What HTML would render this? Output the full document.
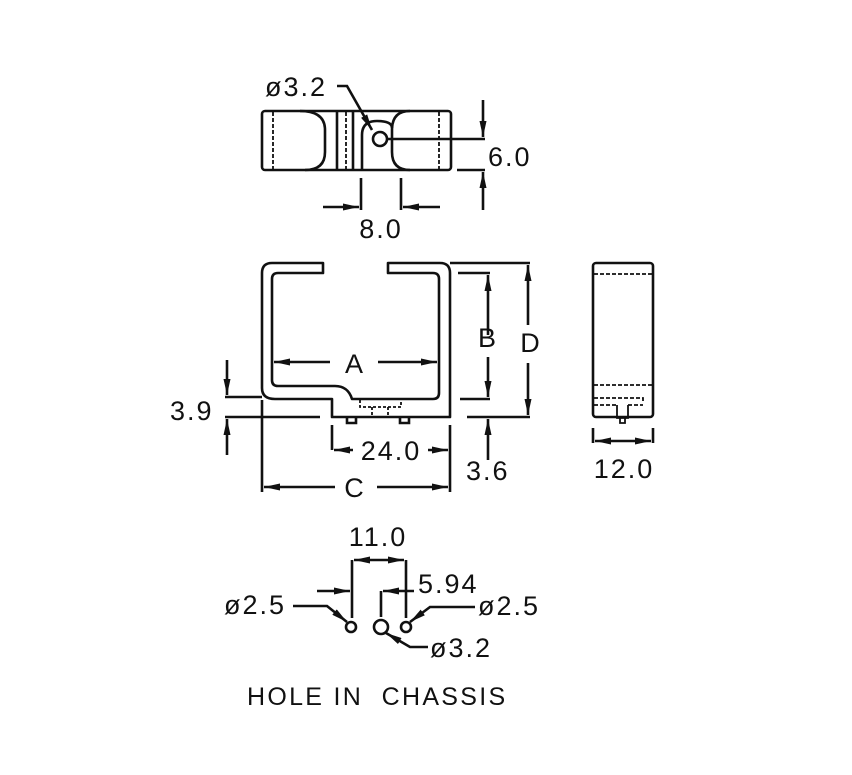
<!DOCTYPE html>
<html><head><meta charset="utf-8"><style>
html,body{margin:0;padding:0;background:#fff}
svg{display:block}
text{font-family:"Liberation Sans",sans-serif;font-size:27px;fill:#111;letter-spacing:2px}
</style></head><body>
<svg width="852" height="775" viewBox="0 0 852 775" xmlns="http://www.w3.org/2000/svg">
<defs>
<marker id="ar" viewBox="0 0 16 7" refX="16" refY="3.5" markerWidth="16" markerHeight="7" markerUnits="userSpaceOnUse" orient="auto"><path d="M0,0 L16,3.5 L0,7 z" fill="#111"/></marker>
</defs>
<g fill="none" stroke="#111" stroke-width="2.6">
<rect x="262" y="111" width="189" height="59" rx="3"/>
<path d="M273,112V169 M439,112V169 M346,112V169" stroke-dasharray="4,2" stroke-width="1.8"/>
<path d="M337,111V170 M353,111V170"/>
<path d="M300,111 Q325,111 325,130 V152 Q325,170 305,170"/>
<path d="M362,170 V135 Q362,121 377,121 Q392,121 392,128"/>
<path d="M410,111 Q392,111 392,130 V152 Q392,170 410,170"/>
<circle cx="380" cy="139" r="7"/>
<path d="M337,86 H347 L372,130" marker-end="url(#ar)"/>
<path d="M387,139 H485 M457,170 H485"/>
<path d="M483,100 V137" marker-end="url(#ar)"/>
<path d="M483,210 V172" marker-end="url(#ar)"/>
<path d="M361,178 V210 M401,178 V210"/>
<path d="M323,207 H359" marker-end="url(#ar)"/>
<path d="M440,207 H403" marker-end="url(#ar)"/>
<path d="M323,263 H272 Q262,263 262,273 V388 Q262,399 275,399 H332 V417 H450 V273 Q450,263 440,263 H388 V273 H433 Q439,273 439,279 V393 Q439,399 433,399 H352 Q348,386 335,386 H278 Q272,386 272,380 V279 Q272,273 278,273 H323 Z" stroke-linejoin="round"/>
<path d="M347,417 V423 H356 V417 M400,417 V423 H409 V417"/>
<path d="M360,400 V407 H401 V400 M372,407 V417 M388,407 V417" stroke-dasharray="3,2" stroke-width="1.8"/>
<path d="M330,362 H274" marker-end="url(#ar)"/>
<path d="M378,362 H437" marker-end="url(#ar)"/>
<path d="M458,273 H490 M460,399 H490 M450,263 H530 M467,417 H530"/>
<path d="M488,335 V275" marker-end="url(#ar)"/>
<path d="M488,357 V397" marker-end="url(#ar)"/>
<path d="M528,325 V265" marker-end="url(#ar)"/>
<path d="M528,363 V415" marker-end="url(#ar)"/>
<path d="M488,460 V419" marker-end="url(#ar)"/>
<path d="M225,397 H262 M225,417 H320"/>
<path d="M227,360 V395" marker-end="url(#ar)"/>
<path d="M227,455 V419" marker-end="url(#ar)"/>
<path d="M332,425 V450 M450,425 V492 M262,400 V492"/>
<path d="M353,450 H334" marker-end="url(#ar)"/>
<path d="M428,450 H448" marker-end="url(#ar)"/>
<path d="M335,487 H264" marker-end="url(#ar)"/>
<path d="M377,487 H448" marker-end="url(#ar)"/>
<rect x="593" y="263" width="60" height="154" rx="3"/>
<path d="M594,274 H652 M594,385 H652 M594,398 H643 V403 M594,405 H617 M628,405 H643" stroke-dasharray="4,2" stroke-width="1.8"/>
<path d="M617,405 V418 H628 V405 M620,418 V423 H625 V418" stroke-width="1.8"/>
<path d="M593,428 V443 M653,428 V443"/>
<path d="M623,441 H595" marker-end="url(#ar)"/>
<path d="M623,441 H651" marker-end="url(#ar)"/>
<circle cx="351" cy="627" r="5"/>
<circle cx="381" cy="627" r="7"/>
<circle cx="406" cy="627" r="5"/>
<path d="M352,560 V618 M406,560 V618 M381,591 V617"/>
<path d="M379,560 H354" marker-end="url(#ar)"/>
<path d="M379,560 H404" marker-end="url(#ar)"/>
<path d="M317,591 H350" marker-end="url(#ar)"/>
<path d="M414,591 H383" marker-end="url(#ar)"/>
<path d="M293,606 H327 L347,622" marker-end="url(#ar)"/>
<path d="M475,607 H430 L410,622" marker-end="url(#ar)"/>
<path d="M428,647 H410 L386,633" marker-end="url(#ar)"/>
</g>
<text x="265" y="96">ø3.2</text>
<text x="488" y="166">6.0</text>
<text x="381" y="238" text-anchor="middle">8.0</text>
<text x="355" y="373" text-anchor="middle">A</text>
<text x="488" y="347" text-anchor="middle">B</text>
<text x="531" y="352" text-anchor="middle">D</text>
<text x="170" y="420">3.9</text>
<text x="391" y="460" text-anchor="middle">24.0</text>
<text x="466" y="480">3.6</text>
<text x="355" y="497" text-anchor="middle">C</text>
<text x="624" y="478" text-anchor="middle">12.0</text>
<text x="378" y="546" text-anchor="middle">11.0</text>
<text x="418" y="593">5.94</text>
<text x="224" y="614">ø2.5</text>
<text x="478" y="615">ø2.5</text>
<text x="430" y="657">ø3.2</text>
<text x="247" y="705" style="font-size:25px;letter-spacing:2.3px">HOLE IN&#160;&#160;CHASSIS</text>
</svg>
</body></html>
